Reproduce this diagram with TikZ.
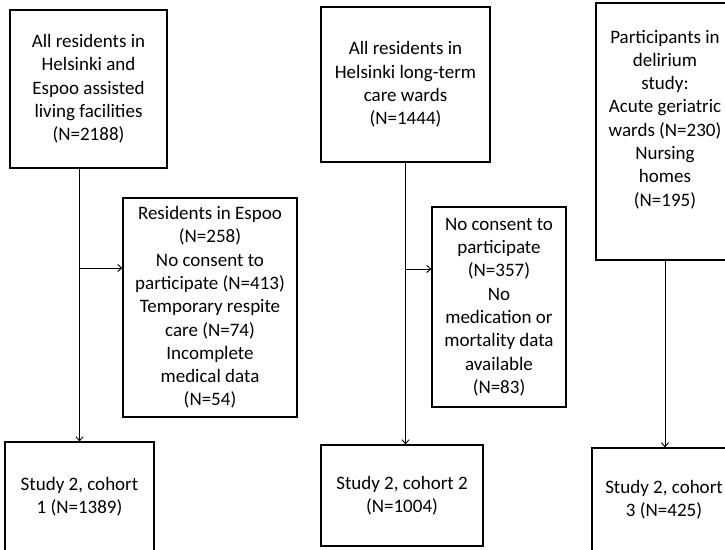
\documentclass[tikz,border=0pt]{standalone}
\usepackage{fontspec}
\setmainfont{Carlito}
\usetikzlibrary{arrows.meta}

\begin{document}
\begin{tikzpicture}[x=1pt, y=-1pt,
  box/.style={draw, line width=1.2pt, align=center, inner sep=0pt, font=\fontsize{19}{23.3}\selectfont},
  link/.style={line width=0.9pt, -{Straight Barb[length=4pt,width=7pt]}}]
  \path[use as bounding box, clip] (0,0) rectangle (725,549);

  \node[box, minimum width=157pt, minimum height=158pt]   (all1)  at (88.5,89)  {All residents in\\Helsinki and\\Espoo assisted\\living facilities\\(N=2188)};
  \node[box, minimum width=174pt, minimum height=219pt]   (excl1) at (210,307.5) {Residents in Espoo\\(N=258)\\No consent to\\participate (N=413)\\Temporary respite\\care (N=74)\\Incomplete\\medical data\\(N=54)};
  \node[box, minimum width=149pt, minimum height=110pt]   (coh1)  at (79.5,497) {Study 2, cohort\\1 (N=1389)};

  \node[box, minimum width=169pt, minimum height=155pt]   (all2)  at (405.5,84.5) {All residents in\\Helsinki long-term\\care wards\\(N=1444)};
  \node[box, minimum width=134pt, minimum height=200pt]   (excl2) at (499,307)   {No consent to\\participate\\(N=357)\\No\\medication or\\mortality data\\available\\(N=83)};
  \node[box, minimum width=162pt, minimum height=101pt]   (coh2)  at (402,495.5) {Study 2, cohort 2\\(N=1004)};

  \node[box, minimum width=138pt, minimum height=257pt, text depth=27pt] (all3) at (665,131.5) {Participants in\\delirium\\study:\\Acute geriatric\\wards (N=230)\\Nursing\\homes\\(N=195)};
  \node[box, minimum width=144pt, minimum height=104pt]   (coh3)  at (664,500) {Study 2, cohort\\3 (N=425)};

  \coordinate (in1) at ([yshift=39.5pt]excl1.west);
  \coordinate (in2) at ([yshift=38pt]excl2.west);

  \draw[link] (coh1.north |- all1.south) -- (coh1.north);
  \draw[link] (coh1.north |- in1) -- (in1);
  \draw[link] (all2.south) -- (all2.south |- coh2.north);
  \draw[link] (all2.south |- in2) -- (in2);
  \draw[link] (all3.south) -- (all3.south |- coh3.north);
\end{tikzpicture}
\end{document}
